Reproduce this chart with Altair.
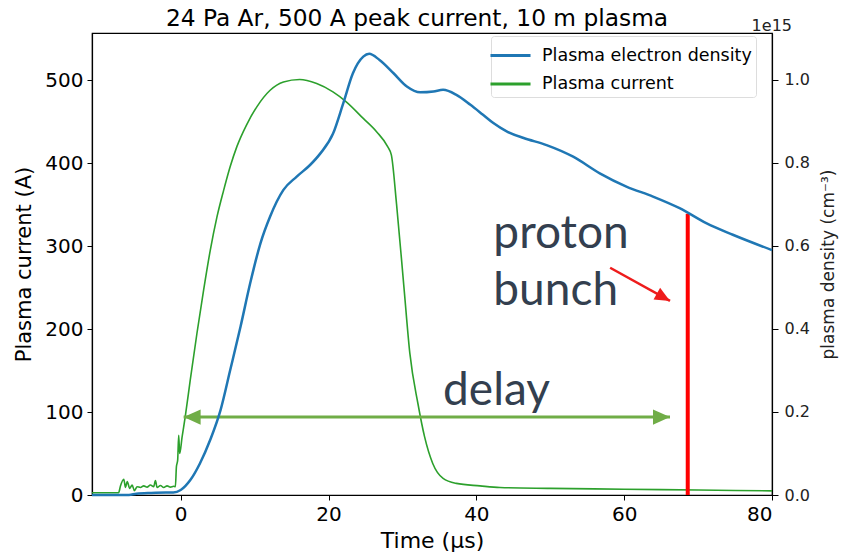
import altair as alt
import pandas as pd

# ---------------- data ----------------
time_current = [-12, -8.4, -8.15, -7.7, -7.47, -7.24, -6.89, -6.57, -6.26, -5.89,
                -5.45, -5.0, -4.55, -4.1, -3.65, -3.42, -3.19, -2.74, -2.3, -1.84,
                -1.39, -0.95, -0.72, -0.58, -0.41, -0.27, -0.14, 0.19, 0.64, 1.3,
                2.2, 3.1, 4.0, 4.9, 5.8, 6.7, 7.6, 8.9, 10.3, 12.1,
                13.9, 16.1, 18.4, 20.6, 22.4, 24.7, 26.5, 28.0, 28.5, 29.2,
                30.2, 31.0, 32.1, 33.0, 34.1, 35.5, 37.3, 40.5, 43.2, 50,
                60, 70, 80]
current_A = [2.8, 2.8, 10.8, 18.9, 9.2, 16.1, 8.0, 12, 5.2, 10,
             9, 11, 9.5, 12, 10, 17.3, 9, 11.5, 9, 11,
             9.5, 10.5, 10, 34, 42, 72, 50, 70, 96, 139,
             195, 247, 295, 335, 367, 396, 420, 446, 468, 488,
             498, 501, 496, 486, 474, 454, 438, 420, 410, 351,
             251, 171, 110, 70, 38, 20, 14, 11, 9, 8,
             7, 6, 5]

time_density = [-12, -7, -6, -4, -2, -1, 0, 1.3, 2.6, 4.0,
                5.4, 6.7, 8.1, 9.4, 10.8, 12.1, 13.9, 15.7, 17.5, 18.9,
                20.6, 22.0, 23.3, 24.7, 25.5, 26.9, 28.8, 30.6, 32.4, 34.2,
                35.5, 37.3, 39.2, 40.9, 42.3, 44.1, 46.4, 49.5, 53.1, 56.7,
                60.3, 63.9, 67.5, 71.1, 74.7, 80]
density_1e15 = [0.0, 0.0, 0.003, 0.005, 0.006, 0.006, 0.012, 0.036, 0.076, 0.133,
                0.205, 0.301, 0.406, 0.510, 0.607, 0.671, 0.735, 0.767, 0.795, 0.823,
                0.870, 0.944, 1.016, 1.056, 1.063, 1.048, 1.016, 0.984, 0.970, 0.972,
                0.976, 0.964, 0.940, 0.916, 0.896, 0.876, 0.860, 0.843, 0.815, 0.775,
                0.743, 0.719, 0.691, 0.655, 0.627, 0.590]

series_names = ["Plasma electron density", "Plasma current"]
series_colors = ["#1f77b4", "#2ca02c"]

# annotations (in data units: time in us, current in A)
bunch_time = [68.6]
bunch_top_A = [339]
delay_time = [0.4, 66.2]
delay_level_A = 94
pointer_time = [58.1, 66.2]
pointer_A = [274, 234]
label_text = ["proton", "bunch", "delay"]
label_time = [42.3, 42.3, 35.5]
label_A = [297.6, 229, 108.4]

# ---------------- frames ----------------
cur_df = pd.DataFrame({"t": time_current, "v": current_A, "series": series_names[1]})
den_df = pd.DataFrame({"t": time_density, "v": density_1e15, "series": series_names[0]})
bunch_df = pd.DataFrame({"t": bunch_time, "v": [0], "v2": bunch_top_A})
delay_df = pd.DataFrame({"t": [delay_time[0]], "t2": [delay_time[1]], "v": [delay_level_A]})
head_r_df = pd.DataFrame({"t": [delay_time[1]], "v": [delay_level_A]})
head_l_df = pd.DataFrame({"t": [delay_time[0]], "v": [delay_level_A]})
pointer_df = pd.DataFrame({"t": [pointer_time[0]], "t2": [pointer_time[1]],
                           "v": [pointer_A[0]], "v2": [pointer_A[1]]})
pointer_head_df = pd.DataFrame({"t": [pointer_time[1]], "v": [pointer_A[1]]})
labels_df = pd.DataFrame({"t": label_time, "v": label_A, "label": label_text})

FONT = "DejaVu Sans"
x_scale = alt.Scale(domain=[-12, 80], nice=False, zero=False)
y_left_scale = alt.Scale(domain=[0, 557], nice=False)

color = alt.Color(
    "series:N",
    scale=alt.Scale(domain=series_names, range=series_colors),
    legend=alt.Legend(
        title=None, orient="none", legendX=399, legendY=3,
        symbolType="M-1.43,0L1.43,0", symbolSize=784, symbolStrokeWidth=3,
        labelFontSize=17.5, labelFont=FONT, labelColor="black", labelOffset=16,
        labelLimit=400, rowPadding=4.4, padding=4, fillColor="white",
        strokeColor="#dddddd", cornerRadius=3,
    ),
)

x_enc = alt.X("t:Q", scale=x_scale,
              axis=alt.Axis(values=[0, 20, 40, 60, 80], title="Time (μs)",
                            labelFontSize=20, titleFontSize=22, titlePadding=6,
                            tickSize=5, labelPadding=4, format="d"))

current_line = alt.Chart(cur_df).mark_line(strokeWidth=1.6, interpolate="monotone").encode(
    x=x_enc,
    y=alt.Y("v:Q", scale=y_left_scale,
            axis=alt.Axis(values=[0, 100, 200, 300, 400, 500], title="Plasma current (A)",
                          orient="left", labelFontSize=20, titleFontSize=21,
                          titlePadding=10, tickSize=5, labelPadding=4)),
    color=color,
)

bunch_rule = alt.Chart(bunch_df).mark_rule(color="#ff0000", strokeWidth=4).encode(
    x="t:Q", y="v:Q", y2="v2:Q")

GREEN = "#70ad47"
delay_shaft = alt.Chart(delay_df).mark_rule(color=GREEN, strokeWidth=3).encode(
    x="t:Q", x2="t2:Q", y="v:Q")
head_r = alt.Chart(head_r_df).mark_point(
    shape="M1,0L-1,-0.9L-1,0.9Z", filled=True, size=289, color=GREEN, opacity=1,
    xOffset=-8.5).encode(x="t:Q", y="v:Q")
head_l = alt.Chart(head_l_df).mark_point(
    shape="M-1,0L1,-0.9L1,0.9Z", filled=True, size=289, color=GREEN, opacity=1,
    xOffset=8.5).encode(x="t:Q", y="v:Q")

pointer = alt.Chart(pointer_df).mark_rule(color="#ee1c1c", strokeWidth=2.5).encode(
    x="t:Q", x2="t2:Q", y="v:Q", y2="v2:Q")
pointer_head = alt.Chart(pointer_head_df).mark_point(
    shape="M1,0L-1,-0.9L-1,0.9Z", filled=True, size=225, color="#ee1c1c", opacity=1,
    angle=29, xOffset=-6.6, yOffset=-3.6).encode(x="t:Q", y="v:Q")

labels = alt.Chart(labels_df).mark_text(
    font="Lato", fontSize=46, color="#333f4f", align="left", baseline="alphabetic"
).encode(x="t:Q", y="v:Q", text="label:N")

left = alt.layer(current_line, bunch_rule, delay_shaft, head_r, head_l,
                 pointer, pointer_head, labels)

density_line = alt.Chart(den_df).mark_line(strokeWidth=2.5, interpolate="monotone").encode(
    x=alt.X("t:Q", scale=x_scale),
    y=alt.Y("v:Q", scale=alt.Scale(domain=[0, 1.113], nice=False),
            axis=alt.Axis(values=[0, 0.2, 0.4, 0.6, 0.8, 1.0], format=".1f",
                          orient="right", title="plasma density (cm⁻³)",
                          labelFontSize=16, titleFontSize=17, labelColor="#222222",
                          titleColor="#222222", titleAngle=270, titleBaseline="top",
                          titlePadding=11, tickSize=6, labelPadding=6)),
    color=color,
)
offset_text = alt.Chart(pd.DataFrame({"txt": ["1e15"]})).mark_text(
    font=FONT, fontSize=16, color="#222222", align="right", baseline="alphabetic"
).encode(text="txt:N", x=alt.value(700), y=alt.value(-2))

right = alt.layer(density_line, offset_text)

chart = alt.layer(left, right).resolve_scale(y="independent").properties(
    width=680, height=462,
    autosize=alt.AutoSizeParams(type="none"),
    padding={"left": 92, "top": 33, "right": 79, "bottom": 61},
    title=alt.TitleParams("24 Pa Ar, 500 A peak current, 10 m plasma", font=FONT,
                          fontSize=23.3, fontWeight="normal", color="black",
                          anchor="middle", offset=-13, dx=-15),
).configure_view(stroke="black", strokeWidth=1.2).configure_axis(
    labelFont=FONT, titleFont=FONT, labelColor="black", titleColor="black",
    tickColor="black", domainColor="black", grid=False, titleFontWeight="normal",
    domainWidth=1.2,
)

chart.save("out.html", embed_options={"renderer": "svg", "actions": False})
